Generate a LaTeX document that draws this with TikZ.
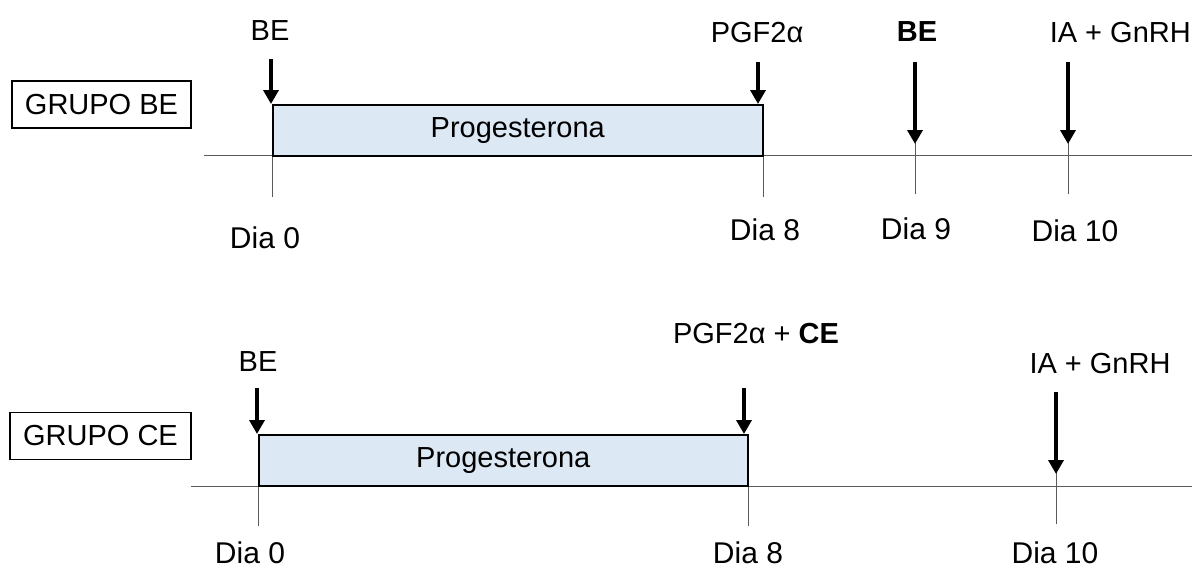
\documentclass[tikz,border=0pt]{standalone}
\usepackage{fontspec}
\setmainfont{Liberation Sans}
\usetikzlibrary{positioning, arrows.meta}

\definecolor{progfill}{RGB}{221,232,245}
\definecolor{axisgray}{RGB}{90,90,90}

\tikzset{
    lbl/.style={font=\fontsize{29}{34}\selectfont, inner sep=0pt},
    dialbl/.style={font=\fontsize{30}{36}\selectfont, inner sep=0pt},
    grupo/.style={draw, line width=1.6pt, lbl, minimum width=179pt, minimum height=47pt},
    progbox/.style={draw, fill=progfill, line width=1.6pt, lbl, minimum width=490pt, minimum height=51pt, anchor=north west},
    axisline/.style={axisgray, line width=0.9pt},
    dose/.style={line width=3.8pt, -{Triangle[width=15pt,length=14pt]}},
}

\begin{document}
\begin{tikzpicture}[x=1pt, y=-1pt]
    \useasboundingbox (0,0) rectangle (1192,570);

    % grupo BE
    \node[grupo] (grupoA) at (101.5,104.5) {GRUPO BE};
    \coordinate (axA0) at (204,155);
    \coordinate (axA1) at (1192,155);
    \draw[axisline] (axA0) -- (axA1);
    \node[progbox] (progA) at (272,104) {Progesterona};
    \coordinate (tA9) at (915,136);
    \coordinate (tA10) at (1068,136);
    \draw[axisline] (progA.south west) -- ++(0,40);
    \draw[axisline] (progA.south east) -- ++(0,40);
    \draw[axisline] (tA9) -- ++(0,58);
    \draw[axisline] (tA10) -- ++(0,58);

    \node[lbl] (beA) at (270,31) {BE};
    \node[lbl] (pgfA) at (757,33) {PGF2α};
    \node[lbl] (be9) at (917,32) {\bfseries BE};
    \node[lbl, anchor=east] (iaA) at (1191,33) {IA + GnRH};
    \coordinate (sA0) at (271,59);
    \coordinate (sA8) at (758,62);
    \coordinate (sA9) at (915,62);
    \coordinate (sA10) at (1068,62);
    \draw[dose] (sA0) -- (sA0 |- progA.north);
    \draw[dose] (sA8) -- (sA8 |- progA.north);
    \draw[dose] (sA9) -- ([yshift=-8pt]tA9);
    \draw[dose] (sA10) -- ([yshift=-8pt]tA10);

    \node[dialbl] (diaA0) at (265,238) {Dia 0};
    \node[dialbl] (diaA8) at (765,230) {Dia 8};
    \node[dialbl] (diaA9) at (916,229) {Dia 9};
    \node[dialbl] (diaA10) at (1075,231) {Dia 10};

    % grupo CE
    \node[grupo, minimum width=181pt] (grupoB) at (100.5,436) {GRUPO CE};
    \coordinate (axB0) at (191,486);
    \coordinate (axB1) at (1192,486);
    \draw[axisline] (axB0) -- (axB1);
    \node[progbox, minimum width=489pt] (progB) at (258,434) {Progesterona};
    \coordinate (tB10) at (1056,466);
    \draw[axisline] (progB.south west) -- ++(0,39);
    \draw[axisline] (progB.south east) -- ++(0,39);
    \draw[axisline] (tB10) -- ++(0,58);

    \node[lbl] (beB) at (258,362) {BE};
    \node[lbl] (pgfB) at (756,334) {PGF2α + \textbf{CE}};
    \node[lbl] (iaB) at (1100,364) {IA + GnRH};
    \coordinate (sB0) at (257,388);
    \coordinate (sB8) at (744,388);
    \coordinate (sB10) at (1056,392);
    \draw[dose] (sB0) -- (sB0 |- progB.north);
    \draw[dose] (sB8) -- (sB8 |- progB.north);
    \draw[dose] (sB10) -- ([yshift=-8pt]tB10);

    \node[dialbl] (diaB0) at (250,553) {Dia 0};
    \node[dialbl] (diaB8) at (748,553) {Dia 8};
    \node[dialbl] (diaB10) at (1055,553) {Dia 10};
\end{tikzpicture}
\end{document}
